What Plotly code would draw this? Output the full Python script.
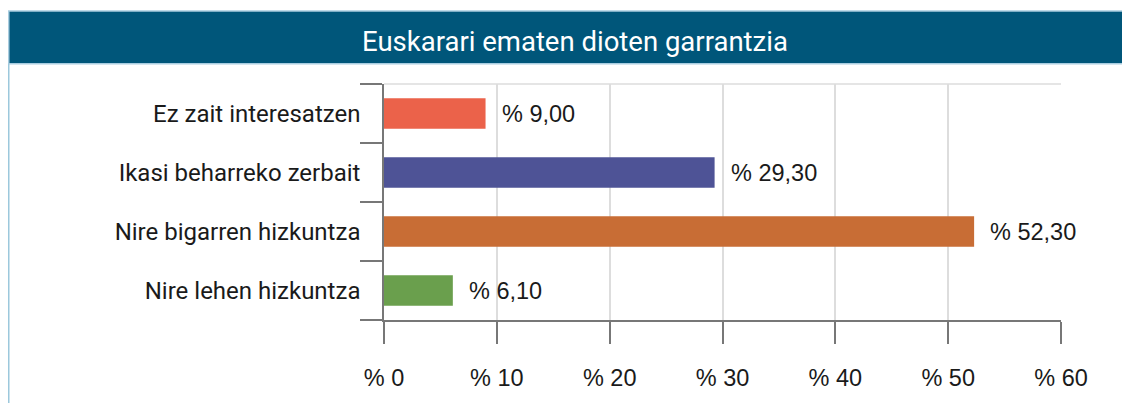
import plotly.graph_objects as go

categories = ["Ez zait interesatzen", "Ikasi beharreko zerbait",
              "Nire bigarren hizkuntza", "Nire lehen hizkuntza"]
values = [9.00, 29.30, 52.30, 6.10]
value_labels = ["% 9,00", "% 29,30", "% 52,30", "% 6,10"]
bar_colors = ["#EB624A", "#4E5396", "#C86D35", "#6A9F4D"]
x_ticks = [0, 10, 20, 30, 40, 50, 60]
x_tick_labels = ["% 0", "% 10", "% 20", "% 30", "% 40", "% 50", "% 60"]
title_text = "Euskarari ematen dioten garrantzia"

cat_font = "Roboto, sans-serif"
num_font = "Liberation Sans, Arial, sans-serif"

# figure-pixel geometry (page has an 8px body margin)
W, H = 1122, 395
L, T = 376, 76
PR, PB = 1053, 314          # plot right / bottom in figure pixels
R, B = W - PR, H - PB
PW, PH = PR - L, PB - T


def px(xp):
    return (xp - L) / PW


def py(yp):
    return 1 - (yp - T) / PH


fig = go.Figure()
fig.add_trace(go.Bar(
    y=categories, x=values, orientation="h",
    marker=dict(color=bar_colors, line=dict(width=0)),
    hoverinfo="skip", showlegend=False,
))

for c, v, t in zip(categories, values, value_labels):
    fig.add_annotation(x=v, y=c, xref="x", yref="y", text=t, showarrow=False,
                       xanchor="left", yanchor="middle", xshift=14,
                       font=dict(family=num_font, size=23.5, color="#1a1a1a"))

# banner
fig.add_shape(type="rect", xref="paper", yref="paper", x0=px(0.75), x1=px(W + 20),
              y0=py(55.5), y1=py(2.5),
              fillcolor="#00567A", line=dict(color="#A9CDE0", width=1.5),
              layer="below")
fig.add_annotation(text=title_text, xref="paper", yref="paper",
                   x=px(567), y=py(33),
                   showarrow=False, xanchor="center", yanchor="middle",
                   font=dict(family=cat_font, size=27.5, color="white"))
# left border line
fig.add_shape(type="line", xref="paper", yref="paper",
              x0=px(0.75), x1=px(0.75), y0=py(H + 5), y1=py(55.5),
              line=dict(color="#9CC8DC", width=1.5))
# top frame line
fig.add_shape(type="line", xref="paper", yref="paper", x0=0, x1=1, y0=1, y1=1,
              line=dict(color="#DDDDDD", width=1.5))

fig.update_layout(
    width=W, height=H,
    margin=dict(l=L, r=R, t=T, b=B),
    paper_bgcolor="white", plot_bgcolor="white",
    bargap=0.48,
    xaxis=dict(range=[0, 60], tickmode="array", tickvals=x_ticks,
               ticktext=x_tick_labels, ticks="outside", ticklen=22,
               tickcolor="#777777", tickwidth=1.5,
               showline=True, linecolor="#777777", linewidth=1.5,
               showgrid=True, gridcolor="#DDDDDD", gridwidth=1.5,
               zeroline=False, ticklabelstandoff=14,
               tickfont=dict(family=num_font, size=23.5, color="#1a1a1a")),
    yaxis=dict(categoryorder="array", categoryarray=categories[::-1],
               tickson="boundaries", ticks="outside", ticklen=22,
               tickcolor="#777777", tickwidth=1.5,
               showline=True, linecolor="#777777", linewidth=1.5,
               showgrid=False, zeroline=False, ticklabelstandoff=17,
               tickfont=dict(family=cat_font, size=24, color="#1a1a1a")),
)

fig.write_html("out.html")
